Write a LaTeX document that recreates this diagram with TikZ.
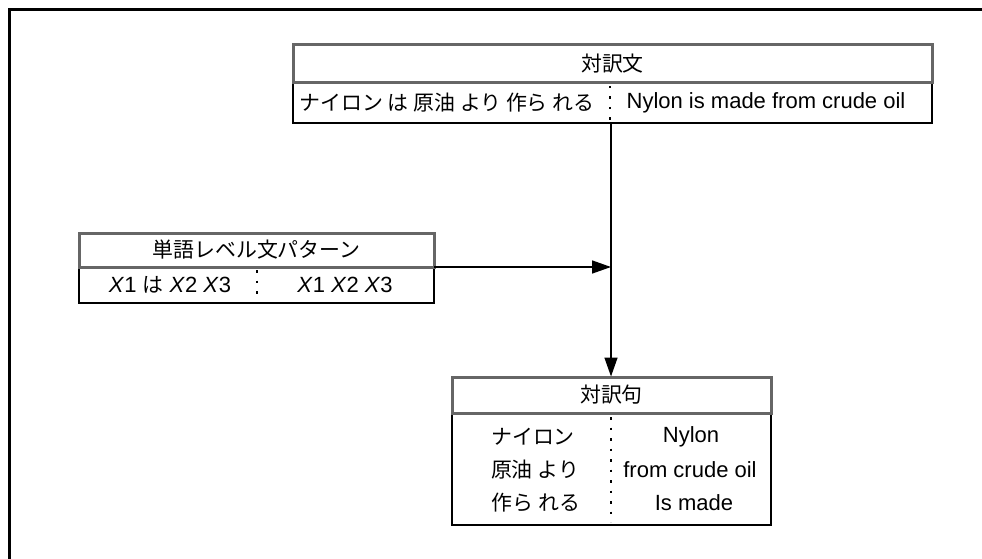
\documentclass[tikz,border=0pt]{standalone}
\usepackage{fontspec}
\setmainfont{Liberation Sans}
\newfontfamily\jp[Scale=0.95]{Noto Sans CJK JP}
\usetikzlibrary{arrows.meta}
\definecolor{hdrgray}{HTML}{666666}
\begin{document}
\begin{tikzpicture}[x=1pt,y=-1pt,
  every node/.style={font=\fontsize{22}{26}\selectfont, inner sep=0pt, outer sep=0pt},
  hdr/.style={draw=hdrgray, line width=3pt, fill=white},
  bodybox/.style={draw=black, line width=1.5pt, fill=white},
  divider/.style={line width=1.3pt, dash pattern=on 2.5pt off 8pt},
  conn/.style={line width=1.5pt},
  tip/.style={-{Triangle[length=19pt,width=13pt]}}]
\useasboundingbox (0,0) rectangle (982,559);
\draw[line width=3pt] (9.5,600) -- (9.5,9.5) -- (1000,9.5);

% top box
\node[bodybox, minimum width=639pt, minimum height=40pt] (topbody) at (612.5,103) {};
\node[hdr, minimum width=639pt, minimum height=38pt] (tophead) at (612.5,64) {\jp 対訳文};
\node (topja) at (447,103) {\jp ナイロン は 原油 より 作ら れる};
\node (topen) at (766,103) {Nylon is made from crude oil};
\coordinate (tdA) at (610,86);
\coordinate (tdB) at (610,122);
\draw[divider] (tdA) -- (tdB);

% left box
\node[bodybox, minimum width=355pt, minimum height=36pt] (leftbody) at (256.5,285) {};
\node[hdr, minimum width=355pt, minimum height=34pt] (lefthead) at (256.5,250) {\jp 単語レベル文パターン};
\node (leftja) at (170,285) {\textit{X}1 {\jp は} \textit{X}2 \textit{X}3};
\node (leften) at (345,285) {\textit{X}1 \textit{X}2 \textit{X}3};
\coordinate (ldA) at (257,270);
\coordinate (ldB) at (257,301);
\draw[divider] (ldA) -- (ldB);

% bottom box
\node[bodybox, minimum width=319pt, minimum height=112pt] (botbody) at (611.5,469) {};
\node[hdr, minimum width=319pt, minimum height=36pt] (bothead) at (611.5,395) {\jp 対訳句};
\node (b1j) at (533,437) {\jp ナイロン};
\node (b2j) at (535,470) {\jp 原油 より};
\node (b3j) at (536,503) {\jp 作ら れる};
\node (b1e) at (691,437) {Nylon};
\node (b2e) at (690,470) {from crude oil};
\node (b3e) at (694,503) {Is made};
\coordinate (bdA) at (611,417);
\coordinate (bdB) at (611,522);
\draw[divider] (bdA) -- (bdB);

% connectors
\coordinate (j) at (611,267);
\coordinate (topout) at (611,123);
\coordinate (botin) at (611,376.5);
\draw[conn] (topout) -- (j);
\draw[conn, tip] (j) -- (botin);
\draw[conn, tip] (lefthead.south east) -- (j);
\end{tikzpicture}
\end{document}
